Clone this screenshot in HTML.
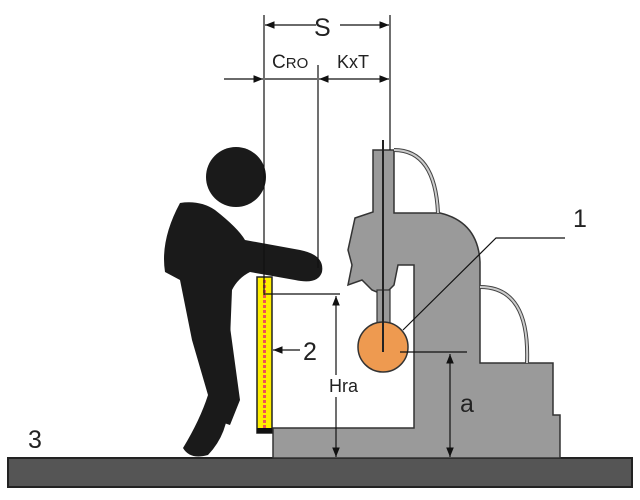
<!DOCTYPE html><html><head><style>body{margin:0;background:#fff}svg{display:block}text{font-family:"Liberation Sans",sans-serif;fill:#222}</style></head><body>
<svg width="640" height="500" viewBox="0 0 640 500">
<defs><marker id="a" viewBox="0 0 10 10" refX="10" refY="5" markerWidth="8" markerHeight="8" orient="auto-start-reverse"><path d="M0,1L10,5L0,9z" fill="#111"/></marker></defs>
<rect x="8" y="458" width="624" height="29" fill="#555" stroke="#222" stroke-width="2"/>
<path d="M273,428 L273,458 L560,458 L560,415 L553,415 L553,363 L480,363 L480,262 Q478,222 440,213 L394,213 L394,150 L373,150 L373,212 L355,218 L348,250 L352,265 L348,285 L362,280 L372,290 L384,295 L394,285 L398,265 L414,265 L414,428 Z" fill="#9a9a9a" stroke="#333" stroke-width="1.5"/>
<rect x="377" y="290" width="13" height="45" fill="#9a9a9a" stroke="#333" stroke-width="1.2"/>
<path d="M394,150 Q435,150 438,213 M480,287 Q530,287 527,363" fill="none" stroke="#444" stroke-width="4"/>
<path d="M394,150 Q435,150 438,213 M480,287 Q530,287 527,363" fill="none" stroke="#ccc" stroke-width="2"/>
<circle cx="383" cy="347" r="25" fill="#ee9a50" stroke="#333" stroke-width="1.5"/>
<line x1="383" y1="140" x2="383" y2="352" stroke="#222" stroke-width="2"/>
<g fill="#1a1a1a">
<circle cx="236" cy="177" r="30"/>
<path d="M180,203 Q200,200 215,210 Q238,228 245,240 L300,250 Q325,255 322,272 Q318,285 295,280 L250,272 Q238,278 232,290 L228,390 Q232,430 208,455 Q190,460 183,448 Q200,420 208,395 L192,340 L180,280 L165,272 Q160,240 180,203 Z"/>
<path d="M225,290 L240,400 L230,425 L215,420 L218,395 L205,300 Z"/>
</g>
<rect x="257" y="277" width="15" height="156" fill="#ffee00" stroke="#222" stroke-width="1.5"/>
<line x1="264.5" y1="280" x2="264.5" y2="430" stroke="#e55" stroke-width="3" stroke-dasharray="3,2"/>
<rect x="257" y="428" width="15" height="5" fill="#111"/>
<g stroke="#111" stroke-width="1.2" fill="none">
<line x1="264" y1="15" x2="264" y2="295"/><line x1="318" y1="65" x2="318" y2="268"/><line x1="390" y1="15" x2="390" y2="150"/>
<line x1="265" y1="25" x2="316" y2="25" marker-start="url(#a)"/><line x1="340" y1="25" x2="389" y2="25" marker-end="url(#a)"/>
<line x1="224" y1="79" x2="263" y2="79" marker-end="url(#a)"/>
<line x1="265" y1="79" x2="317" y2="79"/>
<line x1="319" y1="79" x2="389" y2="79" marker-start="url(#a)" marker-end="url(#a)"/>
<line x1="264" y1="294" x2="340" y2="294"/>
<line x1="336" y1="296" x2="336" y2="375" marker-start="url(#a)"/><line x1="336" y1="397" x2="336" y2="457" marker-end="url(#a)"/>
<line x1="400" y1="352" x2="467" y2="352"/>
<line x1="450" y1="354" x2="450" y2="457" marker-start="url(#a)" marker-end="url(#a)"/>
<line x1="300" y1="350" x2="273" y2="350" marker-end="url(#a)"/>
<polyline points="565,238 496,238 403,330"/>
</g>
<text x="314" y="36" font-size="25">S</text>
<text x="272" y="68" font-size="19">C<tspan font-size="15">RO</tspan></text>
<text x="337" y="68" font-size="18">KxT</text>
<text x="303" y="360" font-size="25">2</text>
<text x="329" y="392" font-size="18">Hra</text>
<text x="460" y="412" font-size="25">a</text>
<text x="573" y="227" font-size="25">1</text>
<text x="28" y="448" font-size="25">3</text>
</svg></body></html>
